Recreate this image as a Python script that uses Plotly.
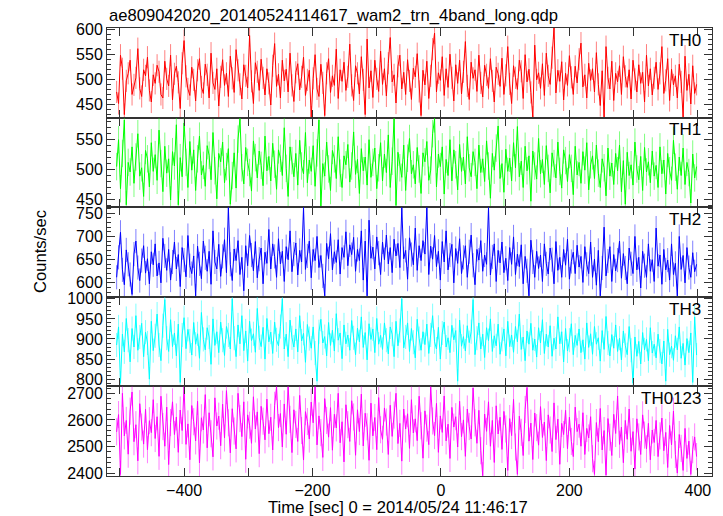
import plotly.graph_objects as go
from plotly.subplots import make_subplots

# time bins (sec): start and bin width of the light curve
T_START = -505
T_STEP = 3

TH0 = [475, 452, 548, 521, 430, 497, 512, 538, 470, 489, 503, 561, 482, 466, 519, 507, 544, 478, 455, 509,
       492, 528, 515, 470, 463, 536, 501, 487, 548, 459, 511, 526, 494, 442, 532, 577, 506, 481, 468, 524,
       499, 457, 518, 541, 485, 472, 530, 509, 463, 552, 493, 480, 521, 447, 505, 539, 488, 512, 466, 546,
       502, 474, 559, 518, 490, 461, 529, 507, 483, 587, 496, 452, 533, 515, 478, 540, 503, 469, 521, 492,
       449, 527, 571, 486, 510, 463, 538, 497, 520, 475, 552, 488, 456, 514, 531, 479, 505, 544, 468, 499,
       518, 425, 502, 549, 481, 466, 530, 493, 428, 512, 541, 474, 507, 488, 560, 462, 519, 496, 534, 478,
       505, 570, 488, 458, 527, 512, 471, 545, 499, 430, 580, 483, 517, 464, 538, 501, 476, 556, 490, 521,
       467, 532, 583, 495, 509, 453, 526, 548, 481, 514, 470, 539, 497, 460, 522, 505, 551, 476, 428, 518,
       489, 536, 462, 507, 560, 592, 475, 513, 498, 545, 468, 521, 484, 550, 503, 457, 529, 492, 538, 471,
       515, 575, 487, 460, 534, 502, 519, 476, 548, 493, 465, 528, 509, 482, 541, 497, 455, 524, 511, 486,
       542, 470, 508, 565, 491, 452, 527, 503, 480, 538, 516, 462, 549, 495, 520, 474, 425, 568, 499, 513,
       482, 531, 468, 552, 507, 490, 543, 602, 473, 518, 496, 535, 459, 512, 488, 547, 504, 470, 526, 493,
       540, 572, 485, 509, 463, 532, 498, 521, 475, 553, 490, 448, 517, 422, 565, 503, 481, 536, 458, 512,
       495, 527, 470, 545, 506, 484, 519, 461, 538, 500, 475, 529, 492, 514, 455, 548, 487, 521, 469, 503,
       534, 480, 512, 565, 472, 498, 541, 458, 520, 489, 507, 463, 530, 495, 425, 546, 478, 510, 451, 527,
       472, 490]

TH1 = [505, 550, 468, 527, 583, 441, 512, 496, 538, 477, 521, 560, 489, 503, 455, 532, 518, 471, 545, 497,
       525, 482, 566, 510, 463, 539, 494, 518, 449, 530, 506, 575, 441, 520, 488, 578, 512, 470, 547, 499,
       533, 465, 518, 556, 491, 507, 472, 540, 524, 483, 562, 498, 451, 527, 513, 546, 478, 505, 535, 442,
       490, 528, 469, 551, 585, 503, 476, 537, 512, 495, 464, 548, 520, 486, 531, 507, 473, 556, 498, 522,
       481, 544, 509, 467, 533, 519, 490, 570, 502, 455, 538, 515, 488, 527, 474, 549, 506, 493, 562, 478,
       516, 497, 540, 472, 528, 583, 438, 510, 489, 546, 501, 465, 532, 518, 485, 555, 494, 470, 523, 508,
       542, 479, 506, 563, 492, 517, 460, 535, 498, 521, 474, 550, 487, 512, 536, 468, 503, 545, 481, 526,
       495, 558, 470, 514, 585, 440, 529, 503, 487, 541, 465, 519, 552, 493, 508, 476, 537, 501, 460, 528,
       513, 547, 482, 499, 560, 585, 471, 526, 505, 538, 459, 517, 490, 550, 481, 533, 508, 466, 542, 497,
       521, 476, 555, 503, 488, 530, 512, 468, 541, 495, 518, 480, 548, 506, 452, 527, 499, 536, 573, 485,
       510, 462, 534, 497, 519, 481, 545, 503, 572, 488, 514, 470, 539, 498, 523, 447, 531, 506, 484, 552,
       493, 517, 475, 540, 502, 461, 528, 510, 486, 546, 497, 469, 533, 515, 480, 525, 502, 458, 539, 491,
       512, 477, 530, 499, 545, 466, 508, 523, 485, 541, 494, 470, 518, 503, 456, 536, 489, 511, 475, 527,
       498, 541, 463, 515, 442, 529, 490, 508, 474, 546, 501, 483, 522, 465, 537, 496, 513, 478, 531, 489,
       507, 470, 538, 493, 516, 459, 527, 498, 482, 549, 504, 467, 521, 490, 536, 475, 512, 495, 444, 526,
       486, 505]

TH2 = [612, 655, 709, 628, 596, 671, 640, 618, 575, 662, 690, 633, 605, 648, 680, 621, 652, 598, 667, 639,
       684, 615, 643, 600, 696, 658, 627, 672, 606, 645, 688, 630, 661, 592, 676, 649, 613, 702, 637, 620,
       658, 572, 679, 641, 609, 690, 654, 625, 668, 597, 712, 645, 630, 683, 614, 657, 693, 622, 762, 640,
       605, 673, 648, 691, 618, 655, 583, 680, 637, 702, 660, 626, 689, 611, 651, 675, 598, 666, 642, 715,
       630, 684, 657, 612, 695, 641, 668, 603, 678, 650, 712, 624, 662, 686, 617, 670, 645, 762, 629, 658,
       690, 611, 672, 648, 700, 633, 659, 615, 572, 685, 652, 706, 628, 667, 644, 693, 619, 676, 655, 710,
       637, 682, 661, 698, 625, 672, 648, 712, 606, 690, 572, 735, 653, 677, 630, 699, 664, 618, 688, 650,
       703, 641, 676, 622, 694, 658, 685, 633, 762, 652, 670, 608, 697, 661, 639, 718, 627, 680, 648, 691,
       662, 762, 618, 679, 651, 702, 635, 668, 606, 689, 645, 712, 628, 660, 683, 600, 674, 642, 695, 620,
       655, 680, 612, 667, 703, 638, 596, 672, 649, 691, 625, 660, 640, 762, 617, 656, 684, 603, 670, 643,
       688, 622, 653, 605, 676, 640, 699, 618, 662, 635, 682, 598, 657, 626, 572, 692, 645, 612, 668, 631,
       660, 603, 684, 641, 619, 675, 650, 598, 689, 627, 655, 612, 672, 638, 694, 608, 646, 666, 620, 681,
       634, 657, 601, 678, 640, 620, 688, 612, 651, 595, 670, 572, 632, 720, 615, 647, 678, 603, 661, 626,
       649, 690, 610, 663, 632, 598, 675, 641, 620, 700, 628, 655, 589, 668, 637, 612, 684, 625, 650, 603,
       718, 636, 660, 597, 672, 628, 649, 606, 684, 618, 642, 572, 700, 629, 659, 600, 676, 633, 612, 665,
       624, 640]

TH3 = [885, 930, 790, 912, 868, 951, 897, 843, 926, 880, 958, 872, 905, 939, 856, 917, 890, 800, 944, 871,
       908, 962, 885, 846, 933, 998, 902, 869, 948, 881, 915, 858, 937, 792, 910, 953, 876, 924, 895, 860,
       941, 887, 913, 852, 966, 899, 873, 928, 905, 837, 950, 884, 918, 866, 942, 897, 859, 931, 910, 875,
       1000, 902, 856, 935, 888, 958, 871, 920, 845, 944, 896, 913, 867, 976, 903, 881, 929, 850, 951, 893,
       917, 864, 942, 898, 883, 931, 1000, 875, 912, 856, 947, 903, 880, 925, 868, 958, 895, 914, 842, 936,
       901, 877, 930, 865, 795, 918, 949, 890, 906, 858, 941, 884, 922, 870, 963, 897, 915, 851, 935, 888,
       910, 872, 946, 903, 861, 927, 893, 955, 879, 916, 848, 938, 899, 925, 866, 951, 887, 909, 874, 940,
       897, 863, 930, 912, 856, 944, 883, 921, 1000, 878, 905, 940, 869, 926, 892, 853, 949, 901, 872, 918,
       886, 937, 864, 910, 958, 893, 875, 929, 850, 915, 942, 880, 903, 866, 934, 898, 921, 795, 947, 882,
       906, 870, 933, 891, 918, 998, 861, 902, 940, 875, 912, 854, 928, 896, 950, 869, 908, 883, 937, 862,
       899, 925, 858, 944, 881, 910, 867, 931, 893, 962, 874, 905, 846, 920, 887, 939, 872, 900, 855, 928,
       890, 948, 864, 912, 880, 933, 857, 902, 875, 955, 888, 918, 843, 926, 870, 897, 938, 861, 909, 884,
       925, 866, 898, 850, 940, 879, 913, 862, 931, 887, 903, 845, 921, 874, 956, 890, 858, 911, 877, 935,
       869, 902, 848, 920, 884, 861, 931, 872, 790, 905, 857, 894, 838, 916, 873, 899, 846, 928, 865, 887,
       853, 912, 870, 838, 895, 795, 924, 861, 882, 847, 908, 873, 930, 852, 889, 835, 901, 866, 915, 792,
       955, 860]

TH0123 = [2555, 2620, 2395, 2700, 2540, 2598, 2471, 2633, 2705, 2518, 2582, 2446, 2661, 2573, 2509, 2640,
          2488, 2597, 2552, 2676,
          2530, 2612, 2463, 2689, 2575, 2501, 2648, 2432, 2590, 2668, 2545, 2611, 2478, 2637, 2560, 2725,
          2508, 2585, 2450, 2654,
          2593, 2521, 2670, 2438, 2608, 2562, 2695, 2495, 2627, 2548, 2461, 2683, 2577, 2614, 2503, 2659,
          2532, 2710, 2589, 2476,
          2642, 2558, 2491, 2700, 2605, 2537, 2668, 2452, 2619, 2580, 2512, 2687, 2566, 2630, 2473, 2651,
          2595, 2525, 2678, 2548,
          2610, 2487, 2655, 2725, 2571, 2624, 2498, 2660, 2546, 2725, 2602, 2477, 2638, 2583, 2519, 2692,
          2560, 2449, 2631, 2594,
          2528, 2667, 2589, 2725, 2506, 2615, 2552, 2459, 2680, 2598, 2535, 2646, 2486, 2621, 2570, 2700,
          2514, 2593, 2442, 2657,
          2582, 2519, 2672, 2611, 2467, 2638, 2556, 2697, 2502, 2625, 2574, 2448, 2663, 2540, 2609, 2488,
          2684, 2563, 2527, 2645,
          2592, 2470, 2655, 2538, 2618, 2700, 2511, 2587, 2445, 2641, 2566, 2623, 2493, 2676, 2551, 2604,
          2522, 2689, 2578, 2456,
          2634, 2569, 2507, 2725, 2596, 2541, 2662, 2478, 2615, 2553, 2690, 2521, 2584, 2455, 2647, 2573,
          2612, 2498, 2670, 2537,
          2600, 2463, 2641, 2575, 2528, 2720, 2589, 2512, 2636, 2484, 2390, 2622, 2557, 2668, 2501, 2598,
          2440, 2653, 2547, 2610,
          2489, 2632, 2566, 2410, 2605, 2541, 2677, 2498, 2395, 2614, 2553, 2466, 2639, 2722, 2520, 2588,
          2451, 2626, 2571, 2505,
          2650, 2534, 2592, 2447, 2619, 2562, 2481, 2664, 2526, 2603, 2433, 2587, 2545, 2636, 2492, 2610,
          2519, 2462, 2648, 2556,
          2584, 2501, 2627, 2470, 2568, 2532, 2612, 2454, 2395, 2590, 2518, 2643, 2487, 2560, 2392, 2605,
          2535, 2466, 2621, 2549,
          2690, 2508, 2573, 2439, 2598, 2527, 2641, 2482, 2556, 2415, 2604, 2536, 2470, 2619, 2543, 2491,
          2587, 2450, 2562, 2515,
          2598, 2462, 2540, 2607, 2484, 2553, 2421, 2579, 2506, 2633, 2470, 2400, 2545, 2493, 2410, 2568,
          2455, 2520, 2395, 2488,
          2536, 2462]

NAMES = ["TH0", "TH1", "TH2", "TH3", "TH0123"]
SERIES = [TH0, TH1, TH2, TH3, TH0123]
ERRS = [22, 23, 26, 30, 51]
COLORS = ["#ff0000", "#00ff00", "#0000ff", "#00ffff", "#ff00ff"]
ERRCOLORS = ["rgba(255,0,0,0.5)", "rgba(0,255,0,0.5)", "rgba(0,0,255,0.5)",
             "rgba(0,255,255,0.5)", "rgba(255,0,255,0.5)"]
YRANGES = [[424, 602], [437, 587], [570, 763], [782, 1005], [2389, 2726]]
YDTICK = [50, 50, 50, 50, 100]
YMINOR = [10, 10, 10, 10, 20]

TITLE = "ae809042020_20140524114617_wam2_trn_4band_long.qdp"
XTITLE = "Time [sec] 0 = 2014/05/24 11:46:17"
YTITLE = "Counts/sec"

FONT = "Liberation Sans, Arial, Helvetica, sans-serif"

fig = make_subplots(rows=5, cols=1, shared_xaxes=True, vertical_spacing=0)

for i, (name, vals) in enumerate(zip(NAMES, SERIES)):
    t = [T_START + T_STEP * k for k in range(len(vals))]
    fig.add_trace(go.Scatter(
        x=t, y=vals, mode="lines", line=dict(color=COLORS[i], width=1),
        error_y=dict(type="constant", value=ERRS[i], color=ERRCOLORS[i], thickness=1, width=0),
        showlegend=False, name=name, hoverinfo="skip"), row=i + 1, col=1)
    fig.update_yaxes(range=YRANGES[i], dtick=YDTICK[i], row=i + 1, col=1)
    fig.update_yaxes(minor=dict(dtick=YMINOR[i], ticks="inside", ticklen=4, tickcolor="#333"),
                     row=i + 1, col=1)
    fig.add_annotation(text=name, xref="x domain", yref="y domain" if i == 0 else f"y{i+1} domain",
                       x=0.985, y=0.99, xanchor="right", yanchor="top", showarrow=False,
                       font=dict(family=FONT, size=17, color="black"))

fig.update_xaxes(range=[-520, 422], dtick=200, tick0=0, ticks="inside", ticklen=8, tickcolor="#333",
                 showline=True, linecolor="#333", linewidth=1, mirror="allticks", showgrid=False,
                 zeroline=False, minor=dict(dtick=100, ticks="inside", ticklen=8, tickcolor="#333"),
                 tickfont=dict(family=FONT, size=16, color="black"))
fig.update_yaxes(ticks="inside", ticklen=8, tickcolor="#333", showline=True, linecolor="#333",
                 linewidth=1, mirror="allticks", showgrid=False, zeroline=False,
                 tickfont=dict(family=FONT, size=16, color="black"))

fig.add_annotation(text=TITLE, xref="paper", yref="paper", x=0, y=1, xanchor="left", yanchor="bottom",
                   yshift=1, showarrow=False, font=dict(family=FONT, size=16.6, color="black"))
fig.add_annotation(text=XTITLE, xref="paper", yref="paper", x=0.481, y=0, xanchor="center",
                   yanchor="middle", yshift=-31, showarrow=False,
                   font=dict(family=FONT, size=16.6, color="black"))
fig.add_annotation(text=YTITLE, xref="paper", yref="paper", x=0, y=0.5, xanchor="center",
                   yanchor="middle", xshift=-67, textangle=-90, showarrow=False,
                   font=dict(family=FONT, size=16.6, color="black"))

fig.update_layout(width=723, height=516, margin=dict(l=107, r=11, t=28, b=40),
                  plot_bgcolor="white", paper_bgcolor="white", font=dict(family=FONT))

fig.write_html("out.html", config={"displayModeBar": False},
               post_script="document.body.style.margin='0px';document.body.style.overflow='hidden';")
